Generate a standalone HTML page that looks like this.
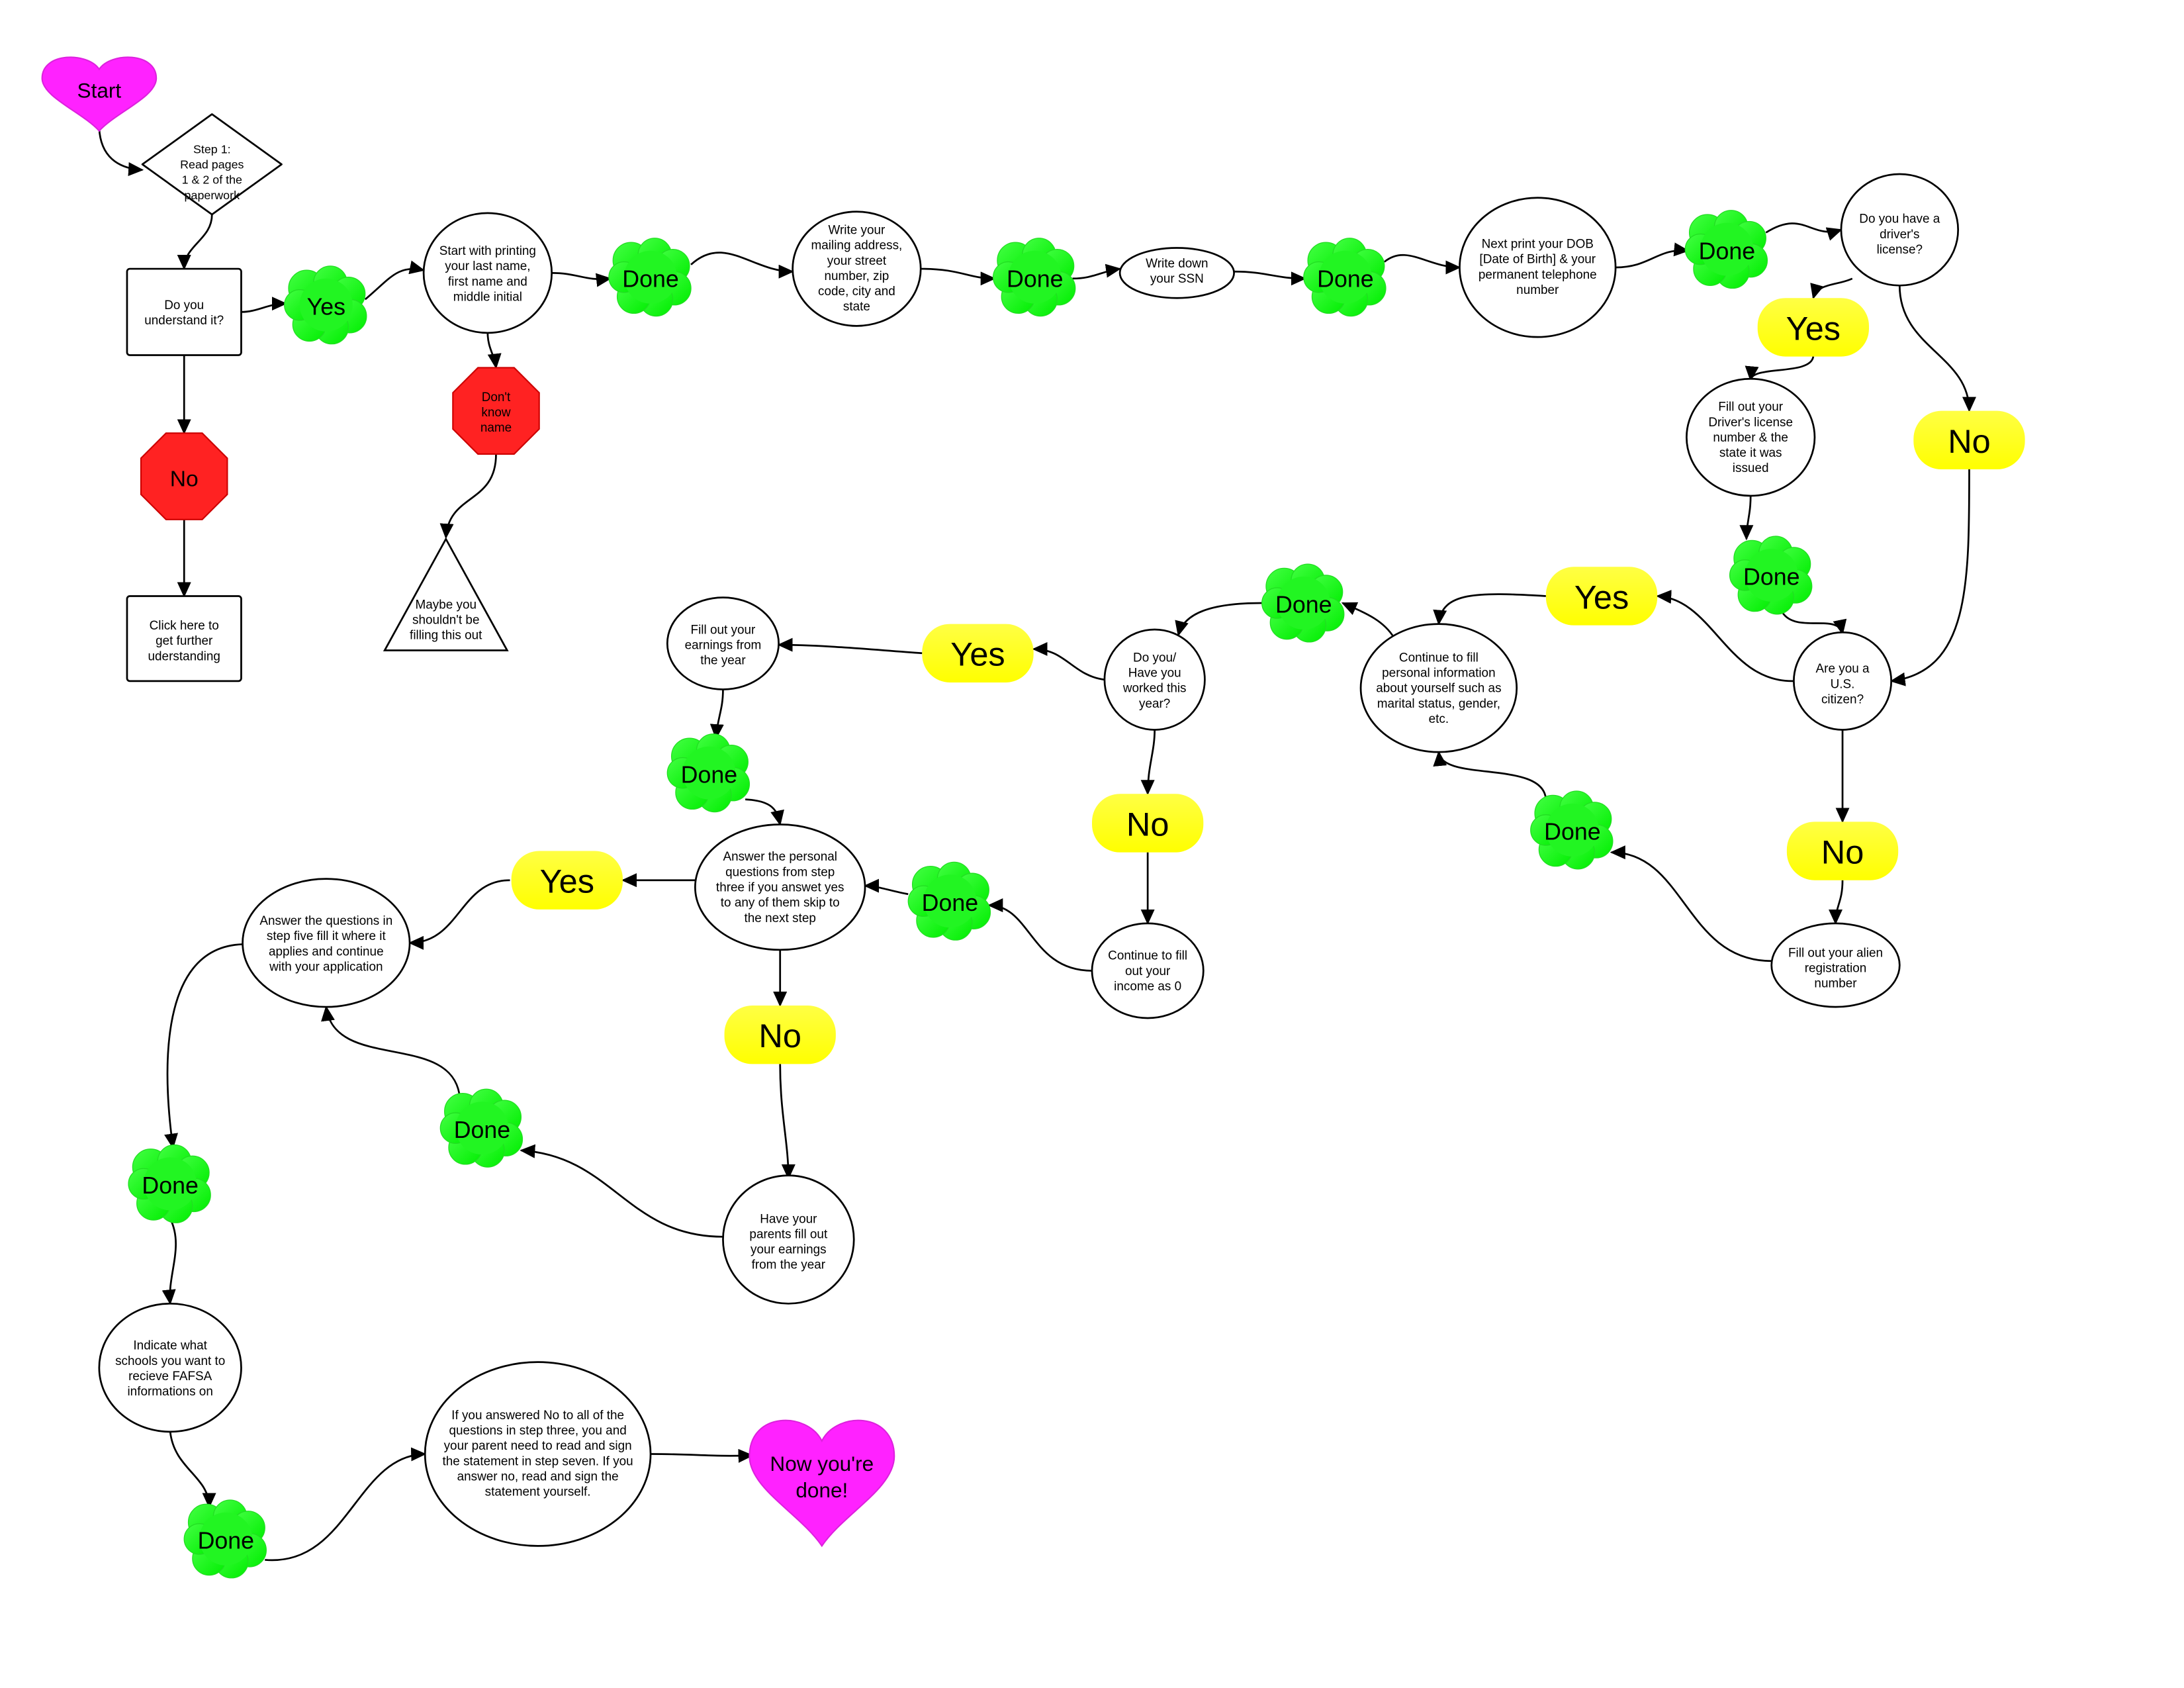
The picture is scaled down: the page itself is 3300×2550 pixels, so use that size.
<!DOCTYPE html>
<html><head><meta charset="utf-8"><style>
html,body{margin:0;padding:0;background:#fff}
svg{display:block}
text{font-family:"Liberation Sans",Arial,sans-serif;fill:#000}
.s{font-size:9px}
.d{font-size:17px}
.p{font-size:24px}
</style></head><body>
<svg width="3300" height="2550" viewBox="0 0 1568 1212" xmlns="http://www.w3.org/2000/svg">
<defs>
<marker id="a" markerUnits="userSpaceOnUse" markerWidth="12" markerHeight="10" refX="10" refY="5" orient="auto"><path d="M0,0 L11,5 L0,10 Z" fill="#000"/></marker>
<linearGradient id="g" x1="0" y1="0" x2="1" y2="1"><stop offset="0" stop-color="#44ff44"/><stop offset="1" stop-color="#00ee00"/></linearGradient>
<linearGradient id="y" x1="0" y1="0" x2="0" y2="1"><stop offset="0" stop-color="#ffff44"/><stop offset="1" stop-color="#ffff00"/></linearGradient>
<g id="cl"><g fill="url(#g)" stroke="#22dd22" stroke-width="0.6">
<circle cx="-14" cy="-12" r="13"/><circle cx="3" cy="-16" r="12"/><circle cx="16" cy="-8" r="12"/><circle cx="17" cy="8" r="12"/><circle cx="4" cy="16" r="12"/><circle cx="-12" cy="14" r="12"/><circle cx="-19" cy="0" r="11"/></g>
<circle cx="0" cy="0" r="19" fill="#22f522"/></g>
</defs>
<g fill="none" stroke="#000" stroke-width="1.3" marker-end="url(#a)">
<path d="M71,92 C72,112 84,121 102,122"/>
<path d="M152,154 C152,172 132,176 132,193"/>
<path d="M173,224 C185,224 192,218 205,218"/>
<path d="M262,215 C280,200 285,190 304,194"/>
<path d="M396,196 C415,196 420,202 438,200"/>
<path d="M350,239 C350,250 355,255 356,264"/>
<path d="M356,326 C356,362 322,354 320,386"/>
<path d="M132,255 L132,311"/>
<path d="M132,373 L132,428"/>
<path d="M496,190 C520,168 540,195 569,195"/>
<path d="M661,193 C690,193 695,200 714,200"/>
<path d="M770,200 C785,200 790,195 804,193"/>
<path d="M886,195 C910,195 915,200 937,200"/>
<path d="M994,188 C1010,175 1025,192 1048,192"/>
<path d="M1160,192 C1185,192 1190,178 1212,180"/>
<path d="M1268,167 C1295,150 1300,172 1322,165"/>
<path d="M1330,200 C1320,205 1305,203 1302,214"/>
<path d="M1364,205 C1364,250 1414,255 1414,295"/>
<path d="M1302,256 C1300,270 1258,262 1257,273"/>
<path d="M1257,356 C1257,370 1254,375 1254,387"/>
<path d="M1280,440 C1290,455 1320,440 1323,455"/>
<path d="M1414,337 C1414,420 1414,482 1358,489"/>
<path d="M1288,489 C1240,490 1230,430 1190,428"/>
<path d="M1323,524 L1323,590"/>
<path d="M1323,632 C1323,648 1318,650 1318,663"/>
<path d="M1272,690 C1210,690 1210,612 1157,612"/>
<path d="M1110,575 C1110,545 1035,562 1033,540"/>
<path d="M1110,428 C1060,425 1035,425 1033,448"/>
<path d="M1001,458 C993,445 980,440 964,433"/>
<path d="M906,433 C870,433 850,440 846,456"/>
<path d="M793,488 C770,485 765,466 742,466"/>
<path d="M662,469 C620,466 590,463 559,463"/>
<path d="M519,495 C519,510 515,515 514,530"/>
<path d="M535,574 C555,575 558,582 560,592"/>
<path d="M829,524 C829,540 824,550 824,570"/>
<path d="M824,612 L824,663"/>
<path d="M784,697 C740,697 740,650 710,650"/>
<path d="M652,642 C640,640 630,636 621,636"/>
<path d="M499,632 C480,632 465,632 447,632"/>
<path d="M366,632 C330,632 330,677 294,677"/>
<path d="M560,682 L560,722"/>
<path d="M560,764 C560,800 566,820 566,846"/>
<path d="M519,888 C450,888 440,830 374,826"/>
<path d="M330,788 C325,740 240,770 234,723"/>
<path d="M174,678 C110,680 118,780 124,824"/>
<path d="M122,875 C132,895 120,915 122,936"/>
<path d="M122,1028 C125,1055 150,1060 150,1082"/>
<path d="M190,1120 C250,1125 255,1045 305,1044"/>
<path d="M467,1044 C500,1044 510,1046 540,1045"/>
</g>
<path d="M71,49.7 C62.8,37.3 30,37.3 30,56.2 C30,69.7 58.7,80.5 71,94 C83.3,80.5 112,69.7 112,56.2 C112,37.3 79.2,37.3 71,49.7Z" fill="#ff22ff" stroke="#dd22dd"/>
<text x="71" y="70" text-anchor="middle" style="font-size:15px">Start</text>
<path d="M590,1034.6 C579.6,1013.4 538,1013.4 538,1045.6 C538,1068.6 574.4,1087 590,1110 C605.6,1087 642,1068.6 642,1045.6 C642,1013.4 600.4,1013.4 590,1034.6Z" fill="#ff22ff" stroke="#dd22dd"/>
<text text-anchor="middle" style="font-size:15px"><tspan x="590" y="1056">Now you're</tspan><tspan x="590" y="1075">done!</tspan></text>
<g fill="#fff" stroke="#000" stroke-width="1.3">
<path d="M152,82 L202,118 L152,154 L102,118 Z" stroke-linejoin="round"/>
<rect x="91" y="193" width="82" height="62" rx="2"/>
<rect x="91" y="428" width="82" height="61" rx="2"/>
<path d="M320,387 L364,467 L276,467 Z"/>
<ellipse cx="350" cy="196" rx="46" ry="43"/>
<ellipse cx="615" cy="193" rx="46" ry="41"/>
<ellipse cx="845" cy="196" rx="41" ry="18"/>
<ellipse cx="1104" cy="192" rx="56" ry="50"/>
<ellipse cx="1364" cy="165" rx="42" ry="40"/>
<ellipse cx="1257" cy="314" rx="46" ry="42"/>
<ellipse cx="1323" cy="489" rx="35" ry="35"/>
<ellipse cx="1033" cy="494" rx="56" ry="46"/>
<ellipse cx="1318" cy="693" rx="46" ry="30"/>
<ellipse cx="829" cy="488" rx="36" ry="36"/>
<ellipse cx="519" cy="462" rx="40" ry="33"/>
<ellipse cx="824" cy="697" rx="40" ry="34"/>
<ellipse cx="560" cy="637" rx="61" ry="45"/>
<ellipse cx="234" cy="677" rx="60" ry="46"/>
<ellipse cx="566" cy="890" rx="47" ry="46"/>
<ellipse cx="122" cy="982" rx="51" ry="46"/>
<ellipse cx="386" cy="1044" rx="81" ry="66"/>
</g>
<polygon points="343,264 369,264 387,282 387,308 369,326 343,326 325,308 325,282" fill="#ff2222" stroke="#cc0000"/>
<polygon points="119,311 145,311 163,329 163,355 145,373 119,373 101,355 101,329" fill="#ff2222" stroke="#cc0000"/>
<text x="132" y="349" text-anchor="middle" style="font-size:16px">No</text>
<text class="s" text-anchor="middle"><tspan x="356" y="288">Don't</tspan><tspan x="356" y="299">know</tspan><tspan x="356" y="310">name</tspan></text>
<use href="#cl" x="234" y="219"/><use href="#cl" x="467" y="199"/><use href="#cl" x="743" y="199"/><use href="#cl" x="966" y="199"/><use href="#cl" x="1240" y="179"/><use href="#cl" x="1272" y="413"/><use href="#cl" x="936" y="433"/><use href="#cl" x="1129" y="596"/><use href="#cl" x="509" y="555"/><use href="#cl" x="682" y="647"/><use href="#cl" x="346" y="810"/><use href="#cl" x="122" y="850"/><use href="#cl" x="162" y="1105"/>
<g class="d" text-anchor="middle">
<text x="234" y="226">Yes</text><text x="467" y="206">Done</text><text x="743" y="206">Done</text><text x="966" y="206">Done</text><text x="1240" y="186">Done</text><text x="1272" y="420">Done</text><text x="936" y="440">Done</text><text x="1129" y="603">Done</text><text x="509" y="562">Done</text><text x="682" y="654">Done</text><text x="346" y="817">Done</text><text x="122" y="857">Done</text><text x="162" y="1112">Done</text>
</g>
<g fill="url(#y)">
<rect x="1262" y="214" width="80" height="42" rx="20"/>
<rect x="1374" y="295" width="80" height="42" rx="20"/>
<rect x="1110" y="407" width="80" height="42" rx="20"/>
<rect x="1283" y="590" width="80" height="42" rx="20"/>
<rect x="662" y="448" width="80" height="42" rx="20"/>
<rect x="784" y="570" width="80" height="42" rx="20"/>
<rect x="367" y="611" width="80" height="42" rx="20"/>
<rect x="520" y="722" width="80" height="42" rx="20"/>
</g>
<g class="p" text-anchor="middle">
<text x="1302" y="244">Yes</text><text x="1414" y="325">No</text><text x="1150" y="437">Yes</text><text x="1323" y="620">No</text><text x="702" y="478">Yes</text><text x="824" y="600">No</text><text x="407" y="641">Yes</text><text x="560" y="752">No</text>
</g>
<g class="s" text-anchor="middle">
<text style="font-size:8.5px"><tspan x="152" y="110">Step 1:</tspan><tspan x="152" y="121">Read pages</tspan><tspan x="152" y="132">1 &amp; 2 of the</tspan><tspan x="152" y="143">paperwork</tspan></text>
<text><tspan x="132" y="222">Do you</tspan><tspan x="132" y="233">understand it?</tspan></text>
<text><tspan x="132" y="452">Click here to</tspan><tspan x="132" y="463">get further</tspan><tspan x="132" y="474">uderstanding</tspan></text>
<text><tspan x="320" y="437">Maybe you</tspan><tspan x="320" y="448">shouldn't be</tspan><tspan x="320" y="459">filling this out</tspan></text>
<text><tspan x="350" y="183">Start with printing</tspan><tspan x="350" y="194">your last name,</tspan><tspan x="350" y="205">first name and</tspan><tspan x="350" y="216">middle initial</tspan></text>
<text><tspan x="615" y="168">Write your</tspan><tspan x="615" y="179">mailing address,</tspan><tspan x="615" y="190">your street</tspan><tspan x="615" y="201">number, zip</tspan><tspan x="615" y="212">code, city and</tspan><tspan x="615" y="223">state</tspan></text>
<text><tspan x="845" y="192">Write down</tspan><tspan x="845" y="203">your SSN</tspan></text>
<text><tspan x="1104" y="178">Next print your DOB</tspan><tspan x="1104" y="189">[Date of Birth] &amp; your</tspan><tspan x="1104" y="200">permanent telephone</tspan><tspan x="1104" y="211">number</tspan></text>
<text><tspan x="1364" y="160">Do you have a</tspan><tspan x="1364" y="171">driver's</tspan><tspan x="1364" y="182">license?</tspan></text>
<text><tspan x="1257" y="295">Fill out your</tspan><tspan x="1257" y="306">Driver's license</tspan><tspan x="1257" y="317">number &amp; the</tspan><tspan x="1257" y="328">state it was</tspan><tspan x="1257" y="339">issued</tspan></text>
<text><tspan x="1323" y="483">Are you a</tspan><tspan x="1323" y="494">U.S.</tspan><tspan x="1323" y="505">citizen?</tspan></text>
<text><tspan x="1033" y="475">Continue to fill</tspan><tspan x="1033" y="486">personal information</tspan><tspan x="1033" y="497">about yourself such as</tspan><tspan x="1033" y="508">marital status, gender,</tspan><tspan x="1033" y="519">etc.</tspan></text>
<text><tspan x="1318" y="687">Fill out your alien</tspan><tspan x="1318" y="698">registration</tspan><tspan x="1318" y="709">number</tspan></text>
<text><tspan x="829" y="475">Do you/</tspan><tspan x="829" y="486">Have you</tspan><tspan x="829" y="497">worked this</tspan><tspan x="829" y="508">year?</tspan></text>
<text><tspan x="519" y="455">Fill out your</tspan><tspan x="519" y="466">earnings from</tspan><tspan x="519" y="477">the year</tspan></text>
<text><tspan x="824" y="689">Continue to fill</tspan><tspan x="824" y="700">out your</tspan><tspan x="824" y="711">income as 0</tspan></text>
<text><tspan x="560" y="618">Answer the personal</tspan><tspan x="560" y="629">questions from step</tspan><tspan x="560" y="640">three if you answet yes</tspan><tspan x="560" y="651">to any of them skip to</tspan><tspan x="560" y="662">the next step</tspan></text>
<text><tspan x="234" y="664">Answer the questions in</tspan><tspan x="234" y="675">step five fill it where it</tspan><tspan x="234" y="686">applies and continue</tspan><tspan x="234" y="697">with your application</tspan></text>
<text><tspan x="566" y="878">Have your</tspan><tspan x="566" y="889">parents fill out</tspan><tspan x="566" y="900">your earnings</tspan><tspan x="566" y="911">from the year</tspan></text>
<text><tspan x="122" y="969">Indicate what</tspan><tspan x="122" y="980">schools you want to</tspan><tspan x="122" y="991">recieve FAFSA</tspan><tspan x="122" y="1002">informations on</tspan></text>
<text><tspan x="386" y="1019">If you answered No to all of the</tspan><tspan x="386" y="1030">questions in step three, you and</tspan><tspan x="386" y="1041">your parent need to read and sign</tspan><tspan x="386" y="1052">the statement in step seven. If you</tspan><tspan x="386" y="1063">answer no, read and sign the</tspan><tspan x="386" y="1074">statement yourself.</tspan></text>
</g>
</svg>
</body></html>
